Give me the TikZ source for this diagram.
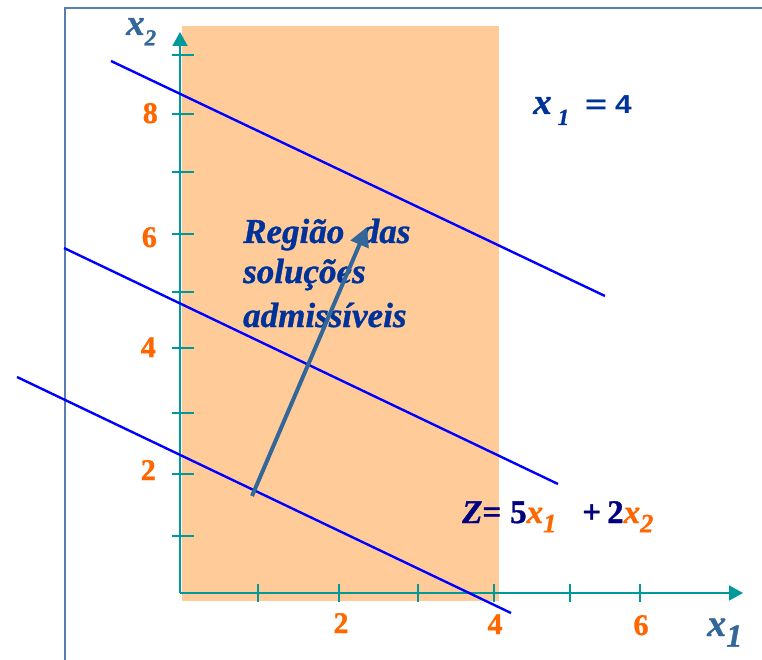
\documentclass[tikz,border=0pt]{standalone}
\usepackage{graphicx}
\usepackage{fontspec}
\setmainfont{Liberation Serif}[BoldFeatures={FakeBold=1},BoldItalicFeatures={FakeBold=1}]
\newfontfamily\arialfont{Liberation Sans}
\usetikzlibrary{arrows.meta,positioning}
\definecolor{peach}{HTML}{FFCC99}
\definecolor{axisteal}{HTML}{009999}
\definecolor{steelblue}{HTML}{336699}
\definecolor{textblue}{HTML}{003399}
\definecolor{navyz}{HTML}{000080}
\definecolor{numorange}{HTML}{FF6600}
\definecolor{framegray}{HTML}{5A7DB0}
% x with a lowered index: [size ratio]{colour}{index}
\newcommand{\xsub}[3][0.8]{\textcolor{#2}{\textbf{\textit{x}}\raisebox{-0.28em}{\fontsize{#1em}{#1em}\selectfont\textbf{\textit{#3}}}}}

\begin{document}
\begin{tikzpicture}[x=1pt,y=-1pt,
  every node/.style={inner sep=0pt,anchor=base west},
  level/.style={blue,line width=2.4pt},
  axis/.style={axisteal,line width=1.8pt,-{Triangle[length=14pt,width=15pt]}},
  tick/.style={axisteal,line width=1.3pt},
  num/.style={numorange,font=\fontsize{30}{30}\selectfont\bfseries,anchor=base east},
  region/.style={textblue,font=\fontsize{35}{42}\selectfont\bfseries\itshape}]
  \useasboundingbox (0,0) rectangle (762,660);
  % frame and feasible strip
  \draw[framegray,line width=1.5pt] (65,660) -- (65,8) -- (762,8);
  \fill[peach] (182,26) rectangle (499,601);
  % axes
  \coordinate (origin) at (180,593);
  \coordinate (xend) at (743,593);
  \coordinate (yend) at (180,32);
  \foreach \y in {55,114,172,234,292,348,413,474,536}
    \draw[tick] (172,\y) -- (194,\y);
  \foreach \x in {258,339,418,494,570,640}
    \draw[tick] (\x,584) -- (\x,602);
  \draw[axis] (origin) -- (xend);
  \draw[axis] (origin) -- (yend);
  % objective lines
  \draw[level] (111,61) -- (605,296);
  \draw[level] (64,248) -- (558,484);
  \draw[level] (17,377) -- (511,613);
  % labels
  \node[num] (y8) at (158,123) {8};
  \node[num] (y6) at (157,247) {6};
  \node[num] (y4) at (156,357) {4};
  \node[num] (y2) at (156,480) {2};
  \node[num,anchor=base] (x2) at (341,633) {2};
  \node[num,anchor=base] (x4) at (495,634) {4};
  \node[num,anchor=base] (x6) at (641,635) {6};
  \node[font=\fontsize{37}{37}\selectfont] (lblx2) at (126,35) {\xsub[0.62]{steelblue}{2}};
  \node[font=\fontsize{38}{38}\selectfont] (lblx1) at (707,636) {\xsub[0.85]{steelblue}{1}};
  \node[font=\fontsize{37}{37}\selectfont,textblue] (bound) at (533,114)
    {\textbf{\textit{x}}\hspace{6pt}\raisebox{-11pt}{\fontsize{23}{23}\selectfont\bfseries\itshape 1}\hspace{16pt}{\arialfont\bfseries\fontsize{26}{26}\selectfont\scalebox{1.45}[1]{=}\hspace{8pt}\scalebox{1.15}[1]{4}}};
  \node[region] (reg1) at (243,243) {Região\ \ das};
  \node[region] (reg2) at (243,283) {soluções};
  \node[region] (reg3) at (243,327) {admissíveis};
  \node[font=\fontsize{33}{33}\selectfont\bfseries,navyz] (zfun) at (462,523)
    {\textit{Z}=\hspace{9pt}5\xsub{numorange}{1}\hspace{26pt}+\hspace{6pt}2\xsub{numorange}{2}};
  % improving direction
  \coordinate (dstart) at (252,496);
  \coordinate (dtip) at (367,227);
  \draw[steelblue,line width=4pt,-{Triangle[length=19pt,width=19pt]}] (dstart) -- (dtip);
\end{tikzpicture}
\end{document}
